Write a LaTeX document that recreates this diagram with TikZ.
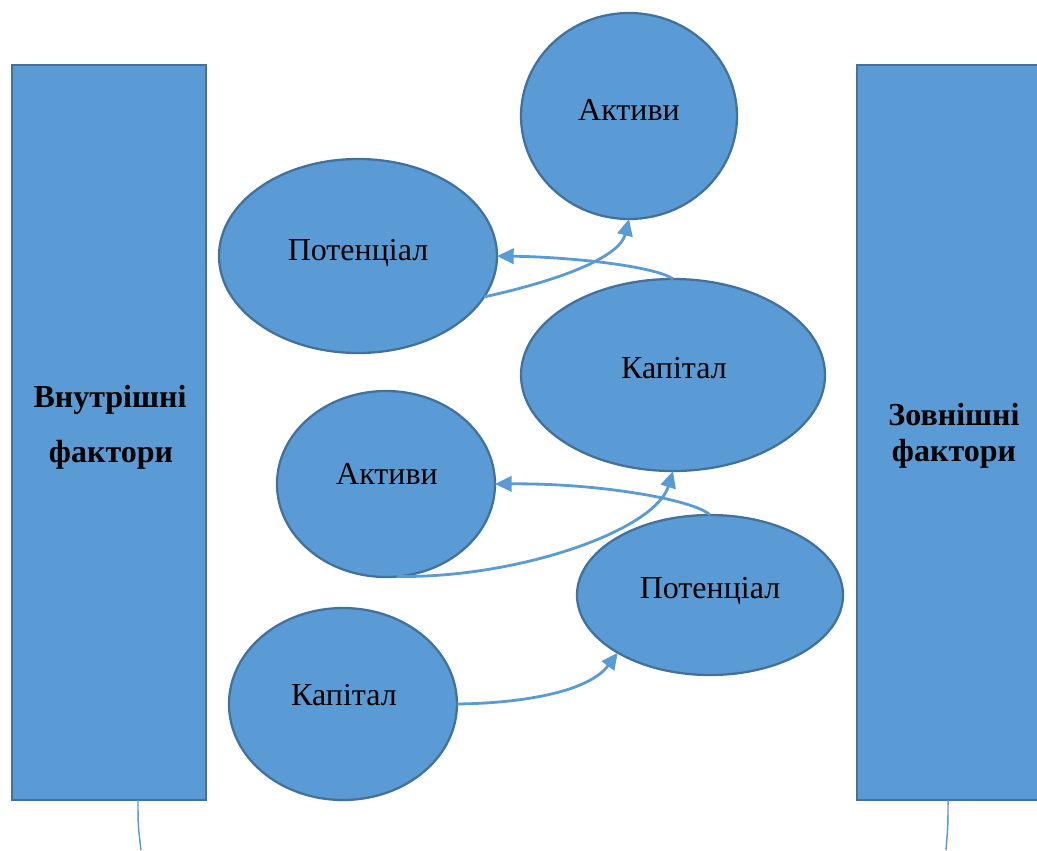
\documentclass[tikz,border=0pt]{standalone}
\usepackage{fontspec}
\setmainfont{Liberation Serif}
\usetikzlibrary{shapes.geometric,arrows.meta}
\definecolor{fillblue}{HTML}{5B9BD5}
\definecolor{edgeblue}{HTML}{41719C}
\begin{document}
\begin{tikzpicture}[x=0.75pt,y=-0.75pt,
  bubble/.style={ellipse,draw=edgeblue,fill=fillblue,line width=1.7pt,inner sep=0pt,outer sep=0pt},
  bar/.style={rectangle,draw=edgeblue,fill=fillblue,line width=1.7pt,inner sep=0pt,outer sep=0pt},
  txt/.style={anchor=base,font=\fontsize{24}{28}\selectfont,inner sep=0pt},
  btxt/.style={anchor=base,font=\fontsize{24}{28}\selectfont\bfseries,inner sep=0pt},
  link/.style={draw=fillblue,line width=2.1pt,-{Triangle[length=12.5pt,width=11.5pt]}},
  stem/.style={draw=fillblue,line width=1.1pt}]
\useasboundingbox (0,0) rectangle (1037,850);

% side bars
\node[bar,minimum width=145.5pt,minimum height=551.25pt] (L) at (109,432.5) {};
\node[bar,minimum width=142.5pt,minimum height=551.25pt] (R) at (952,432.5) {};
\node[btxt] (Lt1) at (110,407) {Внутрішні};
\node[btxt] (Lt2) at (111,462) {фактори};
\node[btxt] (Rt1) at (954,425) {Зовнішні};
\node[btxt] (Rt2) at (954,461) {фактори};

% ellipses
\node[bubble,minimum width=162pt,minimum height=154.5pt] (A1) at (629,116) {};
\node[bubble,minimum width=208.5pt,minimum height=145.5pt] (P1) at (358,256) {};
\node[bubble,minimum width=228pt,minimum height=144pt] (K1) at (673,375) {};
\node[bubble,minimum width=163.5pt,minimum height=139.5pt] (A2) at (386,484) {};
\node[bubble,minimum width=199.5pt,minimum height=120pt] (P2) at (710,595) {};
\node[bubble,minimum width=171pt,minimum height=144pt] (K2) at (343,704) {};

\node[txt] (A1t) at (629,120) {Активи};
\node[txt] (P1t) at (358,260) {Потенціал};
\node[txt] (K1t) at (674,378) {Капітал};
\node[txt] (A2t) at (387,484) {Активи};
\node[txt] (P2t) at (710,598) {Потенціал};
\node[txt] (K2t) at (344,705) {Капітал};

% connectors
\draw[link] (P1.-18) .. controls (570,278) and (620,255) .. (A1.south);
\draw[link] (K1.north) .. controls (655,266) and (570,257) .. (P1.east);
\draw[link] (A2.-83) .. controls (520,578) and (655,530) .. (K1.south);
\draw[link] (P2.north) .. controls (695,500) and (600,483) .. (A2.east);
\draw[link] (K2.east) .. controls (530,703) and (590,690) .. (P2.212);

% stems below the bars
\coordinate (Lend) at (141,850);
\coordinate (Rend) at (946,850);
\draw[stem] ([xshift=21.75pt]L.south) .. controls (138,825) .. (Lend);
\draw[stem] ([xshift=-3pt]R.south) .. controls (948,825) .. (Rend);
\end{tikzpicture}
\end{document}
